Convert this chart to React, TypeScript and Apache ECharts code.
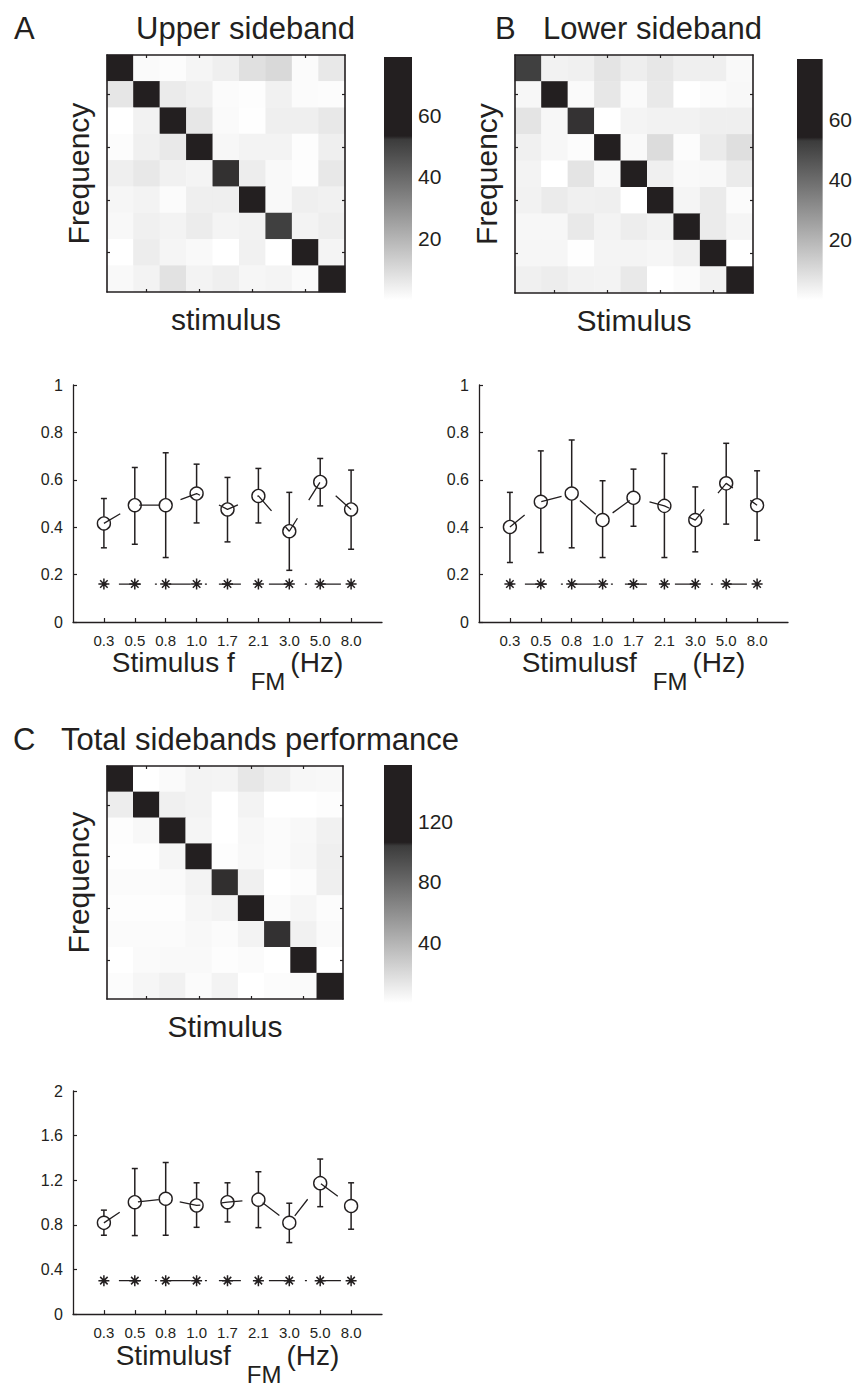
import React, { useEffect, useRef } from 'react';
import * as echarts from 'echarts';

// ---------- data ----------
const stimulusLabels = ['0.3', '0.5', '0.8', '1.0', '1.7', '2.1', '3.0', '5.0', '8.0'];
const matrixIndex = ['1', '2', '3', '4', '5', '6', '7', '8', '9'];

// confusion matrices (rows = Frequency, top to bottom; cols = stimulus, left to right)
const upperSideband = [
  [75, 1.3, 0.8, 2.7, 4.3, 8.3, 10.2, 1.1, 6.2],
  [6.7, 77, 5.3, 4.0, 1.1, 0.5, 3.7, 1.1, 0.8],
  [0, 3.5, 76, 6.4, 1.3, 0.3, 4.3, 4.3, 6.2],
  [0.8, 4.0, 5.9, 77, 2.1, 3.2, 3.2, 0.5, 4.3],
  [4.3, 6.2, 3.7, 2.9, 52.6, 4.8, 1.6, 0.5, 6.2],
  [2.4, 3.2, 1.1, 4.3, 4.3, 77, 1.6, 4.3, 3.7],
  [1.9, 4.0, 3.2, 5.1, 2.9, 3.5, 51.1, 3.2, 4.5],
  [0, 4.8, 2.7, 1.6, 0, 3.7, 0, 77, 2.9],
  [1.6, 3.2, 7.8, 3.2, 4.3, 2.4, 2.9, 1.3, 76],
];
const lowerSideband = [
  [51.7, 3.5, 4.1, 7.3, 4.6, 6.5, 4.3, 4.3, 1.6],
  [2.2, 78, 1.4, 6.5, 1.4, 6.0, 0, 1.1, 1.9],
  [7.3, 2.2, 53.2, 0, 3.0, 3.5, 3.5, 4.3, 4.3],
  [4.1, 2.2, 0.8, 78, 1.6, 9.5, 0.8, 5.4, 8.9],
  [3.2, 0, 7.3, 1.9, 78, 4.1, 1.6, 1.9, 5.4],
  [3.5, 5.4, 4.1, 4.3, 0, 78, 2.7, 5.4, 1.1],
  [2.2, 2.2, 6.0, 3.2, 4.9, 3.5, 78, 5.4, 2.7],
  [2.4, 2.4, 0.5, 3.0, 3.0, 2.4, 4.1, 78, 0],
  [4.1, 4.9, 3.5, 3.2, 6.0, 0, 1.1, 3.5, 78],
];
const totalSidebands = [
  [150, 0, 2.7, 6.4, 5.8, 12.7, 8.5, 4.2, 3.7],
  [9.6, 152, 8.0, 6.4, 0, 6.4, 0, 0, 1.1],
  [1.1, 3.7, 150, 5.3, 0, 4.2, 2.1, 3.7, 7.4],
  [0.5, 0.5, 5.3, 150, 1.1, 3.7, 2.1, 4.2, 8.5],
  [2.1, 2.1, 2.7, 6.4, 104.7, 8.0, 0, 1.6, 8.5],
  [1.1, 1.1, 1.1, 4.8, 6.4, 153, 2.1, 4.8, 1.6],
  [2.1, 2.1, 2.1, 3.7, 2.1, 6.4, 104.5, 7.4, 2.7],
  [0, 2.7, 3.2, 3.2, 1.1, 2.1, 0, 152, 0],
  [1.6, 4.8, 7.4, 2.1, 6.4, 0, 1.6, 2.7, 152],
];
const upperMax = 79;
const lowerMax = 80;
const totalMax = 157;
const upperBarTicks = [20, 40, 60];
const lowerBarTicks = [20, 40, 60];
const totalBarTicks = [40, 80, 120];

// performance (mean with error range)
const upperMean = [0.416, 0.493, 0.493, 0.542, 0.475, 0.532, 0.383, 0.591, 0.475];
const upperHigh = [0.521, 0.652, 0.714, 0.666, 0.61, 0.648, 0.547, 0.69, 0.641];
const upperLow = [0.313, 0.328, 0.272, 0.418, 0.338, 0.418, 0.218, 0.49, 0.307];
const upperChance = [0.16, 0.16, 0.16, 0.16, 0.16, 0.16, 0.16, 0.16, 0.16];

const lowerMean = [0.401, 0.507, 0.542, 0.43, 0.524, 0.49, 0.43, 0.585, 0.493];
const lowerHigh = [0.547, 0.722, 0.768, 0.596, 0.645, 0.711, 0.57, 0.754, 0.638];
const lowerLow = [0.251, 0.293, 0.313, 0.272, 0.404, 0.272, 0.296, 0.413, 0.345];
const lowerChance = [0.16, 0.16, 0.16, 0.16, 0.16, 0.16, 0.16, 0.16, 0.16];

const totalMean = [0.818, 1.003, 1.034, 0.974, 1.003, 1.026, 0.818, 1.174, 0.969];
const totalHigh = [0.932, 1.305, 1.359, 1.177, 1.177, 1.276, 0.994, 1.39, 1.177];
const totalLow = [0.707, 0.704, 0.707, 0.778, 0.826, 0.775, 0.641, 0.963, 0.761];
const totalChance = [0.3, 0.3, 0.3, 0.3, 0.3, 0.3, 0.3, 0.3, 0.3];

const sidebandYTicks = [0, 0.2, 0.4, 0.6, 0.8, 1];
const totalYTicks = [0, 0.4, 0.8, 1.2, 1.6, 2];

// ---------- styles ----------
const INK = '#231f20';
const FONT = "'Liberation Sans', Arial, Helvetica, sans-serif";
const NARROW = "'Liberation Sans Narrow', 'Arial Narrow', 'Liberation Sans', sans-serif";

function grayAt(t: number): string {
  if (t <= 0.66) {
    const g = Math.round(255 - (255 - 60) * (t / 0.66));
    return `rgb(${g},${g},${g})`;
  }
  if (t <= 0.675) {
    const f = (t - 0.66) / 0.015;
    const r = Math.round(60 + (35 - 60) * f);
    const g = Math.round(60 + (31 - 60) * f);
    const b = Math.round(60 + (32 - 60) * f);
    return `rgb(${r},${g},${b})`;
  }
  return INK;
}
const COLORS: string[] = [];
for (let i = 0; i <= 400; i++) COLORS.push(grayAt(i / 400));
const STOPS = [
  { offset: 0, color: '#ffffff' },
  { offset: 0.66, color: 'rgb(60,60,60)' },
  { offset: 0.675, color: INK },
  { offset: 1, color: INK },
];

const ASTERISK = 'path://M5,0L5,10M0,5L10,5M1.6,1.6L8.4,8.4M1.6,8.4L8.4,1.6';

function buildOption() {
  const grid: any[] = [];
  const xAxis: any[] = [];
  const yAxis: any[] = [];
  const series: any[] = [];
  const visualMap: any[] = [];

  const heatAxisCommon = (gi: number) => ({
    type: 'category',
    gridIndex: gi,
    data: matrixIndex,
    z: 5,
    axisLine: { show: true, onZero: false, lineStyle: { color: INK, width: 1.6 } },
    axisTick: {
      show: true,
      alignWithLabel: true,
      inside: true,
      length: 3,
      interval: (i: number) => i % 2 === 1,
      lineStyle: { color: INK, width: 1.2 },
    },
    axisLabel: { show: false },
    splitLine: { show: false },
  });

  const heatmapPanel = (g: any, matrix: number[][], max: number, xName: string) => {
    const gi = grid.length;
    grid.push(g);
    const xb = xAxis.length;
    xAxis.push({
      ...heatAxisCommon(gi),
      position: 'bottom',
      name: xName,
      nameLocation: 'middle',
      nameGap: 12,
      nameTextStyle: { fontSize: 30, color: INK, fontFamily: FONT },
    });
    xAxis.push({ ...heatAxisCommon(gi), position: 'top' });
    const yb = yAxis.length;
    yAxis.push({
      ...heatAxisCommon(gi),
      position: 'left',
      inverse: true,
      name: 'Frequency',
      nameLocation: 'middle',
      nameGap: 14,
      nameTextStyle: { fontSize: 30, color: INK, fontFamily: FONT },
    });
    yAxis.push({ ...heatAxisCommon(gi), position: 'right', inverse: true });
    const data: number[][] = [];
    matrix.forEach((row, r) => row.forEach((v, c) => data.push([c, r, v])));
    const si = series.length;
    series.push({
      type: 'heatmap',
      xAxisIndex: xb,
      yAxisIndex: yb,
      data,
      silent: true,
      itemStyle: { borderWidth: 0 },
    });
    visualMap.push({
      type: 'continuous',
      show: false,
      seriesIndex: si,
      dimension: 2,
      min: 0,
      max,
      inRange: { color: COLORS },
    });
  };

  const colorbarPanel = (g: any, max: number, ticks: number[]) => {
    const gi = grid.length;
    grid.push(g);
    const xi = xAxis.length;
    xAxis.push({ type: 'category', gridIndex: gi, data: ['scale'], show: false });
    const yi = yAxis.length;
    yAxis.push({
      type: 'value',
      gridIndex: gi,
      min: 0,
      max,
      interval: ticks[1] - ticks[0],
      position: 'right',
      axisLine: { show: false },
      axisTick: { show: false },
      splitLine: { show: false },
      axisLabel: {
        fontSize: 21,
        color: INK,
        fontFamily: FONT,
        margin: 6,
        formatter: (v: number) => (ticks.includes(v) ? String(v) : ''),
      },
    });
    series.push({
      type: 'bar',
      xAxisIndex: xi,
      yAxisIndex: yi,
      data: [max],
      barWidth: '100%',
      silent: true,
      itemStyle: { color: new echarts.graphic.LinearGradient(0, 1, 0, 0, STOPS) },
    });
  };

  const showCat = (i: number) => i >= 1 && i <= stimulusLabels.length;

  const linePanel = (
    g: any,
    mean: number[],
    low: number[],
    high: number[],
    chance: number[],
    yTicks: number[],
    stimText: string
  ) => {
    const gi = grid.length;
    grid.push(g);
    const xi = xAxis.length;
    xAxis.push({
      type: 'category',
      gridIndex: gi,
      boundaryGap: false,
      data: [' ', ...stimulusLabels, '  '],
      axisLine: { show: true, onZero: false, lineStyle: { color: INK, width: 1.3 } },
      axisTick: { show: true, inside: true, length: 4, interval: showCat, lineStyle: { color: INK, width: 1.2 } },
      axisLabel: { interval: showCat, fontSize: 15, color: INK, fontFamily: FONT, margin: 11 },
      splitLine: { show: false },
      name: `{a|${stimText}}{b|FM}{c|(Hz)}`,
      nameLocation: 'middle',
      nameGap: 17,
      nameTextStyle: {
        fontFamily: NARROW,
        color: INK,
        rich: {
          a: { fontSize: 28, fontFamily: NARROW, color: INK, verticalAlign: 'top', lineHeight: 30 },
          b: { fontSize: 24, fontFamily: NARROW, color: INK, verticalAlign: 'top', lineHeight: 26, padding: [21, 5, 0, 16] },
          c: { fontSize: 28, fontFamily: NARROW, color: INK, verticalAlign: 'top', lineHeight: 30 },
        },
      },
    });
    const yi = yAxis.length;
    yAxis.push({
      type: 'value',
      gridIndex: gi,
      min: yTicks[0],
      max: yTicks[yTicks.length - 1],
      interval: yTicks[1] - yTicks[0],
      axisLine: { show: true, onZero: false, lineStyle: { color: INK, width: 1.3 } },
      axisTick: { show: true, inside: true, length: 4, lineStyle: { color: INK, width: 1.2 } },
      axisLabel: { fontSize: 16, color: INK, fontFamily: FONT, margin: 10 },
      splitLine: { show: false },
    });
    const R = 6.6;
    series.push({
      type: 'custom',
      xAxisIndex: xi,
      yAxisIndex: yi,
      silent: true,
      data: mean.map((m, i) => [i + 1, low[i], high[i], m]),
      encode: { x: 0, y: [1, 2] },
      renderItem: (_p: any, api: any) => {
        const x = api.value(0);
        const pLo = api.coord([x, api.value(1)]);
        const pHi = api.coord([x, api.value(2)]);
        const pM = api.coord([x, api.value(3)]);
        const cap = 3;
        const style = { stroke: INK, lineWidth: 1.5 };
        return {
          type: 'group',
          children: [
            { type: 'line', shape: { x1: pHi[0], y1: pHi[1], x2: pM[0], y2: pM[1] - R }, style },
            { type: 'line', shape: { x1: pM[0], y1: pM[1] + R, x2: pLo[0], y2: pLo[1] }, style },
            { type: 'line', shape: { x1: pHi[0] - cap, y1: pHi[1], x2: pHi[0] + cap, y2: pHi[1] }, style },
            { type: 'line', shape: { x1: pLo[0] - cap, y1: pLo[1], x2: pLo[0] + cap, y2: pLo[1] }, style },
          ],
        };
      },
    });
    series.push({
      type: 'line',
      xAxisIndex: xi,
      yAxisIndex: yi,
      silent: true,
      data: mean.map((m, i) => [i + 1, m]),
      symbol: 'circle',
      symbolSize: 13,
      lineStyle: { color: INK, width: 1.3, type: [21, 21.3], dashOffset: 1.6 },
      itemStyle: { color: 'rgba(0,0,0,0)', borderColor: INK, borderWidth: 1.4 },
      z: 3,
    });
    series.push({
      type: 'line',
      xAxisIndex: xi,
      yAxisIndex: yi,
      silent: true,
      data: chance.map((c, i) => [i + 1, c]),
      symbol: ASTERISK,
      symbolSize: 11,
      lineStyle: { color: INK, width: 1.4, type: [22, 14, 2, 12], dashOffset: 34.7 },
      itemStyle: { color: INK, borderColor: INK, borderWidth: 1.5 },
      z: 3,
    });
  };

  heatmapPanel({ left: 107, top: 55, width: 238, height: 237 }, upperSideband, upperMax, 'stimulus');
  colorbarPanel({ left: 384, top: 57, width: 28, height: 243 }, upperMax, upperBarTicks);
  heatmapPanel({ left: 515, top: 55, width: 238, height: 238 }, lowerSideband, lowerMax, 'Stimulus');
  colorbarPanel({ left: 797, top: 59, width: 26, height: 241 }, lowerMax, lowerBarTicks);
  linePanel({ left: 73, top: 385, width: 309, height: 237 }, upperMean, upperLow, upperHigh, upperChance, sidebandYTicks, 'Stimulus f');
  linePanel({ left: 479, top: 385, width: 309, height: 237 }, lowerMean, lowerLow, lowerHigh, lowerChance, sidebandYTicks, 'Stimulusf');
  heatmapPanel({ left: 107, top: 766, width: 236, height: 233 }, totalSidebands, totalMax, 'Stimulus');
  colorbarPanel({ left: 384, top: 765, width: 28, height: 238 }, totalMax, totalBarTicks);
  linePanel({ left: 73, top: 1091, width: 309, height: 234 }, totalMean, totalLow, totalHigh, totalChance, totalYTicks, 'Stimulusf');

  const titleStyle = { fontSize: 31, fontWeight: 'normal', color: INK, fontFamily: FONT };
  const title = [
    { text: 'A', left: 9, top: 8, textStyle: titleStyle },
    { text: 'Upper sideband', left: 131, top: 8, textStyle: titleStyle },
    { text: 'B', left: 490, top: 8, textStyle: titleStyle },
    { text: 'Lower sideband', left: 538, top: 8, textStyle: titleStyle },
    { text: 'C', left: 8, top: 719, textStyle: titleStyle },
    { text: 'Total sidebands performance', left: 56, top: 719, textStyle: titleStyle },
  ];

  return {
    animation: false,
    backgroundColor: '#ffffff',
    textStyle: { fontFamily: FONT },
    title,
    grid,
    xAxis,
    yAxis,
    visualMap,
    series,
  };
}

export default function App() {
  const ref = useRef<HTMLDivElement>(null);
  useEffect(() => {
    if (!ref.current) return;
    const chart = echarts.init(ref.current, undefined, { renderer: 'svg' });
    chart.setOption(buildOption() as any);
    return () => chart.dispose();
  }, []);
  return (
    <div
      ref={ref}
      style={{ position: 'absolute', left: 0, top: 0, width: 855, height: 1387, background: '#fff' }}
    />
  );
}
